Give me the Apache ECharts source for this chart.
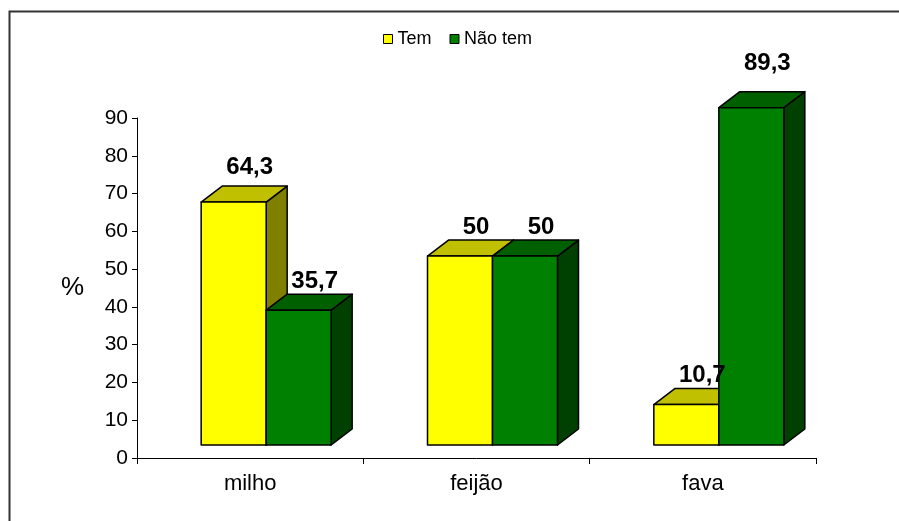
<!DOCTYPE html>
<html>
<head>
<meta charset="utf-8">
<script src="https://cdn.jsdelivr.net/npm/echarts@6/dist/echarts.min.js"></script>
<style>
  html, body { margin: 0; padding: 0; background: #fff; }
  #chart { width: 899px; height: 521px; }
</style>
</head>
<body>
<div id="chart"></div>
<script>
// Crops and share of producers that have / do not have each one (%)
const categories = ['milho', 'feijão', 'fava'];
const temValues = [64.3, 50, 10.7];
const naoTemValues = [35.7, 50, 89.3];
const seriesNames = ['Tem', 'Não tem'];
const yTicks = { min: 0, max: 90, interval: 10 };

const FONT = '"Liberation Sans", Arial, sans-serif';

// 3D box look
const BAR_W = 65;       // width of each front face
const SHIFT = 16;       // front faces sit a bit right of the category centre
const DX = 21, DY = 16; // depth of the box
const FLOOR = 13;       // floor raised above the axis line

const palettes = [
  { front: '#ffff00', top: '#c0c000', side: '#808000' },
  { front: '#008000', top: '#006000', side: '#004000' }
];

function fmt(v) { return String(v).replace('.', ','); }

function makeRender(idx) {
  return function (params, api) {
    const cat = api.value(0);
    const v = api.value(1);
    const base = api.coord([cat, 0]);
    const top = api.coord([cat, v]);
    const cx = base[0] + SHIFT;
    const x0 = idx === 0 ? cx - BAR_W : cx;
    const x1 = x0 + BAR_W;
    const yb = base[1] - FLOOR;
    const yt = top[1] - FLOOR;
    const pal = palettes[idx];
    const stroke = { stroke: '#000', lineWidth: 1.5, lineJoin: 'round' };
    const gap = v <= 50 ? 13 : 13 + (v - 50) * 0.4;
    return {
      type: 'group',
      children: [
        { type: 'polygon', shape: { points: [[x1, yt], [x1 + DX, yt - DY], [x1 + DX, yb - DY], [x1, yb]] },
          style: Object.assign({ fill: pal.side }, stroke) },
        { type: 'polygon', shape: { points: [[x0, yt], [x0 + DX, yt - DY], [x1 + DX, yt - DY], [x1, yt]] },
          style: Object.assign({ fill: pal.top }, stroke) },
        { type: 'rect', shape: { x: x0, y: yt, width: BAR_W, height: yb - yt },
          style: Object.assign({ fill: pal.front }, stroke) },
        { type: 'text', z2: 100,
          style: { text: fmt(v), x: (x0 + x1) / 2 + SHIFT, y: yt - DY - gap,
                   align: 'center', verticalAlign: 'middle',
                   font: 'bold 24px ' + FONT, fill: '#000' } }
      ]
    };
  };
}

const chart = echarts.init(document.getElementById('chart'), null, { renderer: 'canvas' });
chart.setOption({
  animation: false,
  backgroundColor: '#fff',
  graphic: [{
    type: 'rect', left: 7, top: 9,
    shape: { width: 1000, height: 1000 },
    style: { fill: 'none', stroke: '#333', lineWidth: 2 }
  }],
  legend: {
    data: seriesNames,
    top: 25, left: 378,
    itemWidth: 9, itemHeight: 9, itemGap: 18,
    icon: 'rect',
    itemStyle: { borderColor: '#000', borderWidth: 1 },
    textStyle: { fontFamily: FONT, fontSize: 18, color: '#000' }
  },
  grid: { left: 137, right: 83, top: 118, bottom: 63 },
  xAxis: {
    type: 'category',
    data: categories,
    boundaryGap: true,
    axisLine: { lineStyle: { color: '#000', width: 1 } },
    axisTick: { show: true, length: 6, alignWithLabel: false, lineStyle: { color: '#000' } },
    axisLabel: { fontFamily: FONT, fontSize: 22, color: '#000', margin: 15 }
  },
  yAxis: {
    type: 'value',
    min: yTicks.min, max: yTicks.max, interval: yTicks.interval,
    name: '%', nameLocation: 'middle', nameGap: 53, nameRotate: 0,
    nameTextStyle: { fontFamily: FONT, fontSize: 26, color: '#000' },
    axisLine: { show: true, lineStyle: { color: '#000', width: 1 } },
    axisTick: { show: true, length: 5, lineStyle: { color: '#000' } },
    splitLine: { show: false },
    axisLabel: { fontFamily: FONT, fontSize: 21, color: '#000', margin: 9 }
  },
  series: [
    {
      name: seriesNames[0], type: 'custom',
      itemStyle: { color: palettes[0].front },
      renderItem: makeRender(0),
      encode: { x: 0, y: 1 },
      data: temValues.map((v, i) => [i, v])
    },
    {
      name: seriesNames[1], type: 'custom',
      itemStyle: { color: palettes[1].front },
      renderItem: makeRender(1),
      encode: { x: 0, y: 1 },
      data: naoTemValues.map((v, i) => [i, v])
    }
  ]
});
</script>
</body>
</html>
